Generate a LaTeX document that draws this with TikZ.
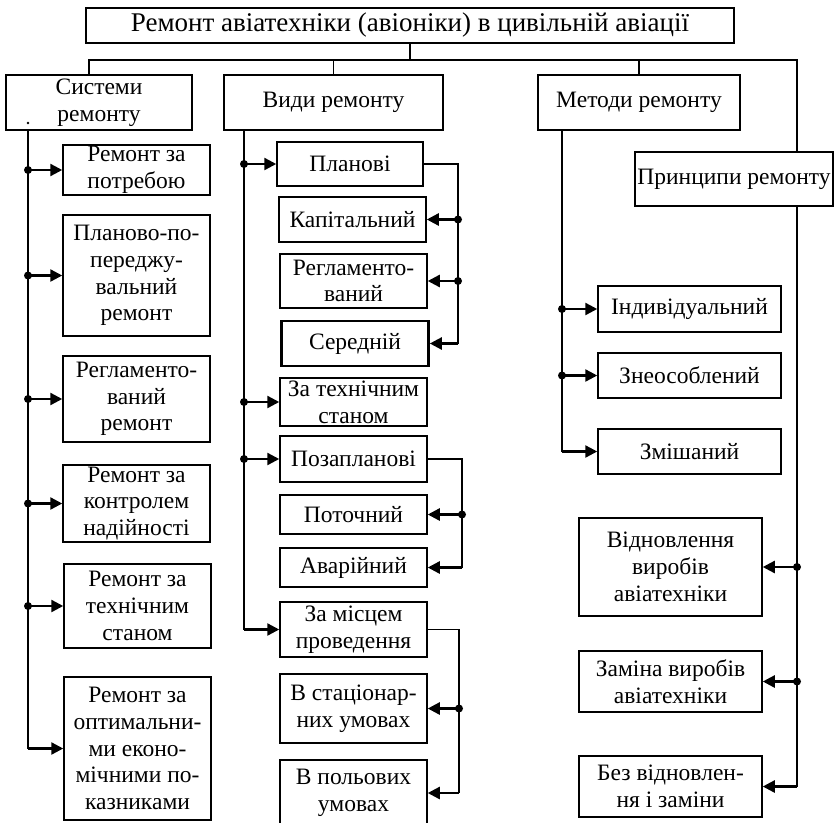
\documentclass[tikz,border=0pt]{standalone}
\usepackage{fontspec}
\setmainfont{Liberation Serif}
\usepackage{tikz}
\usetikzlibrary{arrows.meta, positioning, calc}
\tikzset{
  block/.style={rectangle, draw=black, fill=white, align=center,
    inner sep=0pt, line width=1.5pt, font=\fontsize{23.5}{26.7}\selectfont},
  thickblock/.style={block, line width=2.6pt},
  titleblock/.style={block, font=\fontsize{27}{30}\selectfont},
  arrow/.style={-{Triangle[length=12pt,width=12pt]}, line width=2.4pt},
  line/.style={line width=1.6pt},
  dot/.style={fill=black}
}

\begin{document}
\begin{tikzpicture}[x=1pt, y=-1pt]
  \useasboundingbox (0,0) rectangle (835,822);

  % Title
  \node[titleblock, minimum width=648pt, minimum height=35pt] (title) at (410,25.5)
    {Ремонт авіатехніки (авіоніки) в цивільній авіації};

  % Groups
  \node[block, minimum width=186pt, minimum height=55pt] (sys) at (99,102.5) {Системи\\ремонту};
  \node[block, minimum width=219pt, minimum height=55pt] (vyd) at (333.5,102.5) {Види ремонту};
  \node[block, minimum width=202pt, minimum height=55pt] (met) at (639,102.5) {Методи ремонту};
  \node[block, minimum width=198pt, minimum height=54pt] (prn) at (734,179) {Принципи ремонту};

  % Systems of repair
  \node[block, minimum width=147pt, minimum height=50pt] (s1) at (136.5,170) {Ремонт за\\потребою};
  \node[block, minimum width=147pt, minimum height=121pt] (s2) at (136.5,275.5) {Планово-по-\\переджу-\\вальний\\ремонт};
  \node[block, minimum width=147pt, minimum height=86pt] (s3) at (136.5,399) {Регламенто-\\ваний\\ремонт};
  \node[block, minimum width=147pt, minimum height=77pt] (s4) at (136.5,503.5) {Ремонт за\\контролем\\надійності};
  \node[block, minimum width=147pt, minimum height=84pt] (s5) at (137.5,606) {Ремонт за\\технічним\\станом};
  \node[block, minimum width=147pt, minimum height=143pt] (s6) at (137.5,748.5) {Ремонт за\\оптимальни-\\ми еконо-\\мічними по-\\казниками};

  % Kinds of repair
  \node[block, minimum width=146pt, minimum height=44pt] (m1) at (350,164) {Планові};
  \node[block, minimum width=147pt, minimum height=45pt] (m2) at (352.5,219.5) {Капітальний};
  \node[block, minimum width=147pt, minimum height=54pt] (m3) at (353.5,281) {Регламенто-\\ваний};
  \node[thickblock, minimum width=147pt, minimum height=45pt] (m4) at (355,343.5) {Середній};
  \node[block, minimum width=147pt, minimum height=48pt] (m5) at (353.5,402) {За технічним\\станом};
  \node[block, minimum width=147pt, minimum height=46pt] (m6) at (353.5,459) {Позапланові};
  \node[block, minimum width=147pt, minimum height=39pt] (m7) at (353.5,514.5) {Поточний};
  \node[block, minimum width=147pt, minimum height=39pt] (m8) at (353.5,567.5) {Аварійний};
  \node[block, minimum width=147pt, minimum height=55pt] (m9) at (353.5,629.5) {За місцем\\проведення};
  \node[block, minimum width=147pt, minimum height=69pt] (m10) at (353.5,708.5) {В стаціонар-\\них умовах};
  \node[block, minimum width=147pt, minimum height=66pt] (m11) at (353.5,793) {В польових\\умовах};

  % Methods of repair
  \node[block, minimum width=183pt, minimum height=46pt] (r1) at (689.5,309) {Індивідуальний};
  \node[block, minimum width=183pt, minimum height=45pt] (r2) at (689.5,375.5) {Знеособлений};
  \node[block, minimum width=183pt, minimum height=45pt] (r3) at (689.5,451.5) {Змішаний};

  % Principles of repair
  \node[block, minimum width=183pt, minimum height=98pt] (p1) at (670.5,567) {Відновлення\\виробів\\авіатехніки};
  \node[block, minimum width=183pt, minimum height=61pt] (p2) at (670.5,681.5) {Заміна виробів\\авіатехніки};
  \node[block, minimum width=183pt, minimum height=61pt] (p3) at (670.5,786.5) {Без відновлен-\\ня і заміни};

  % Bus under the title
  \coordinate (busL) at (89,60);
  \coordinate (busR) at (797,60);
  \draw[line] (title.south) -- (title.south |- busL);
  \draw[line] (sys.north -| busL) -- (busL) -- (busR) -- (busR |- prn.north);
  \draw[line] (vyd.north) -- (vyd.north |- busL);
  \draw[line] (met.north) -- (met.north |- busL);

  % Trunks
  \coordinate (tS) at (28,0);
  \coordinate (tV) at (244,0);
  \coordinate (tM) at (562,0);
  \coordinate (tP) at (797,0);
  \fill[dot] (28,123) circle (1.3pt);

  \draw[line] (sys.south -| tS) -- (s6.west -| tS);
  \foreach \n in {s1,s2,s3,s4,s5} {
    \draw[arrow] (\n.west -| tS) -- (\n.west);
    \fill[dot] (\n.west -| tS) circle (4pt);
  }
  \draw[arrow] (s6.west -| tS) -- (s6.west);

  \draw[line] (vyd.south -| tV) -- (m9.west -| tV);
  \foreach \n in {m1,m5,m6} {
    \draw[arrow] (\n.west -| tV) -- (\n.west);
    \fill[dot] (\n.west -| tV) circle (4pt);
  }
  \draw[arrow] (m9.west -| tV) -- (m9.west);

  \draw[line] (met.south -| tM) -- (r3.west -| tM);
  \foreach \n in {r1,r2} {
    \draw[arrow] (\n.west -| tM) -- (\n.west);
    \fill[dot] (\n.west -| tM) circle (4pt);
  }
  \draw[arrow] (r3.west -| tM) -- (r3.west);

  \draw[line] (prn.south -| tP) -- (p3.east -| tP);
  \foreach \n in {p1,p2} {
    \draw[arrow] (\n.east -| tP) -- (\n.east);
    \fill[dot] (\n.east -| tP) circle (4pt);
  }
  \draw[arrow] (p3.east -| tP) -- (p3.east);

  % Brackets on the right of the kinds
  \coordinate (bA) at (458,0);
  \draw[line] (m1.east) -- (m1.east -| bA) -- (m4.east -| bA);
  \foreach \n in {m2,m3} {
    \draw[arrow] (\n.east -| bA) -- (\n.east);
    \fill[dot] (\n.east -| bA) circle (4pt);
  }
  \draw[arrow] (m4.east -| bA) -- (m4.east);

  \coordinate (bB) at (462,0);
  \draw[line] (m6.east) -- (m6.east -| bB) -- (m8.east -| bB);
  \draw[arrow] (m7.east -| bB) -- (m7.east);
  \fill[dot] (m7.east -| bB) circle (4pt);
  \draw[arrow] (m8.east -| bB) -- (m8.east);

  \coordinate (bC) at (459,0);
  \draw[line] (m9.east) -- (m9.east -| bC) -- (m11.east -| bC);
  \draw[arrow] (m10.east -| bC) -- (m10.east);
  \fill[dot] (m10.east -| bC) circle (4pt);
  \draw[arrow] (m11.east -| bC) -- (m11.east);
\end{tikzpicture}
\end{document}
